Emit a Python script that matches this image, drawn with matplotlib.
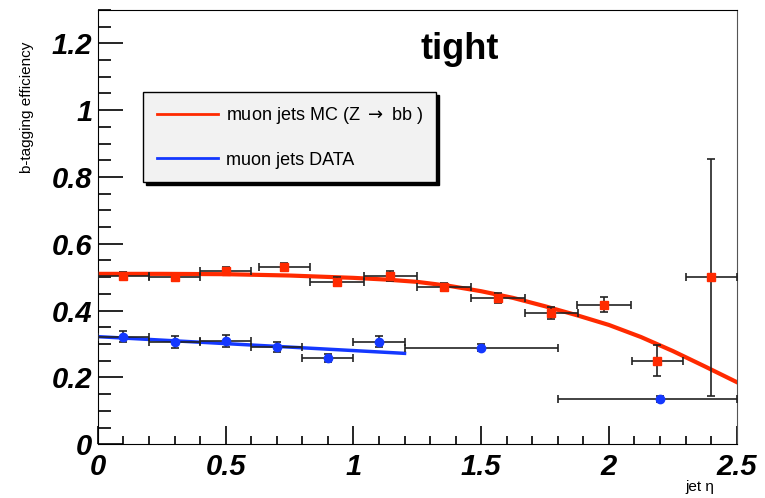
import matplotlib
matplotlib.use("Agg")
import matplotlib.pyplot as plt
from matplotlib.ticker import MultipleLocator

# MC (Z -> bb) muon jets
mc_eta = [0.1, 0.3, 0.5, 0.73, 0.935, 1.145, 1.355, 1.565, 1.775, 1.98, 2.19, 2.4]
mc_eff = [0.505, 0.50, 0.52, 0.53, 0.487, 0.505, 0.472, 0.438, 0.393, 0.418, 0.25, 0.50]
mc_xerr = [0.1, 0.1, 0.1, 0.1, 0.105, 0.105, 0.105, 0.105, 0.105, 0.105, 0.1, 0.1]
mc_yerr = [0.010, 0.010, 0.010, 0.012, 0.014, 0.015, 0.012, 0.014, 0.017, 0.023, 0.047, 0.355]

# data muon jets
data_eta = [0.1, 0.3, 0.5, 0.7, 0.9, 1.1, 1.5, 2.2]
data_eff = [0.322, 0.307, 0.31, 0.292, 0.259, 0.307, 0.289, 0.135]
data_yerr = [0.017, 0.018, 0.018, 0.015, 0.012, 0.016, 0.010, 0.010]
data_xlo = [0.1, 0.1, 0.1, 0.1, 0.1, 0.1, 0.3, 0.4]
data_xhi = [0.1, 0.1, 0.1, 0.1, 0.1, 0.1, 0.3, 0.3]

# fitted curves
mc_fit_x = [0, 0.25, 0.5, 0.75, 1.0, 1.125, 1.25, 1.375, 1.5, 1.625, 1.75, 1.875,
            2.0, 2.125, 2.25, 2.375, 2.5]
mc_fit_y = [0.51, 0.51, 0.509, 0.505, 0.498, 0.493, 0.486, 0.474, 0.458, 0.438, 0.413, 0.386,
            0.357, 0.321, 0.279, 0.233, 0.186]
data_fit_x = [0, 0.6, 1.2]
data_fit_y = [0.322, 0.297, 0.272]

xticks = [0, 0.5, 1, 1.5, 2, 2.5]
xticklabels = ['0', '0.5', '1', '1.5', '2', '2.5']
yticks = [0, 0.2, 0.4, 0.6, 0.8, 1.0, 1.2]
yticklabels = ['0', '0.2', '0.4', '0.6', '0.8', '1', '1.2']

red = '#ff2a00'
blue = '#1438ff'

fig = plt.figure(figsize=(7.65, 4.98), dpi=100)
ax = fig.add_axes([0.128, 0.108, 0.835, 0.872])

ax.plot(mc_fit_x, mc_fit_y, color=red, lw=3, label=r'muon jets MC (Z $\rightarrow$ bb )', zorder=3,
        solid_joinstyle='round')
ax.plot(data_fit_x, data_fit_y, color=blue, lw=2.5, label='muon jets DATA', zorder=3)

ax.errorbar(mc_eta, mc_eff, xerr=mc_xerr, yerr=mc_yerr, fmt='s', color=red, ms=5.5,
            ecolor='#222222', elinewidth=1.2, capsize=3, capthick=1.2, zorder=4)
ax.errorbar(data_eta, data_eff, xerr=[data_xlo, data_xhi], yerr=data_yerr, fmt='o', color=blue, ms=6,
            ecolor='#222222', elinewidth=1.2, capsize=3, capthick=1.2, zorder=4)

ax.set_xlim(0, 2.5)
ax.set_ylim(0, 1.3)
ax.set_xticks(xticks)
ax.set_xticklabels(xticklabels)
ax.set_yticks(yticks)
ax.set_yticklabels(yticklabels)
ax.xaxis.set_minor_locator(MultipleLocator(0.1))
ax.yaxis.set_minor_locator(MultipleLocator(0.05))
ax.tick_params(axis='both', which='both', direction='in', labelsize=21, width=1.2)
ax.tick_params(axis='y', which='major', length=18, pad=4)
ax.tick_params(axis='y', which='minor', length=9)
ax.tick_params(axis='x', which='major', length=13, pad=6)
ax.tick_params(axis='x', which='minor', length=6)
for lab in ax.get_xticklabels() + ax.get_yticklabels():
    lab.set_fontweight('bold')
    lab.set_fontstyle('italic')
    lab.set_family('Liberation Sans')
ax.spines['right'].set_color('#555555')

fig.text(0.601, 0.90, 'tight', fontsize=26, fontweight='bold', family='Liberation Sans',
         ha='center', va='center')
fig.text(0.035, 1 - 107 / 498, 'b-tagging efficiency', rotation=90, fontsize=11,
         family='Liberation Sans', ha='center', va='center')
fig.text(0.915, 0.022, 'jet η', fontsize=11, family='Liberation Sans', ha='center', va='center')

leg = ax.legend(loc='upper left', bbox_to_anchor=(0.057, 0.832), frameon=True,
                fancybox=False, shadow={'color': 'black', 'alpha': 1}, facecolor='#f2f2f2',
                edgecolor='black', handlelength=3.4, labelspacing=1.4, borderpad=0.75,
                handletextpad=0.4, prop={'family': 'Liberation Sans', 'size': 13})
leg.get_frame().set_linewidth(1.0)
leg.get_frame().set_alpha(1)
for line in leg.get_lines():
    line.set_linewidth(2)

fig.savefig('out.png', dpi=100)
